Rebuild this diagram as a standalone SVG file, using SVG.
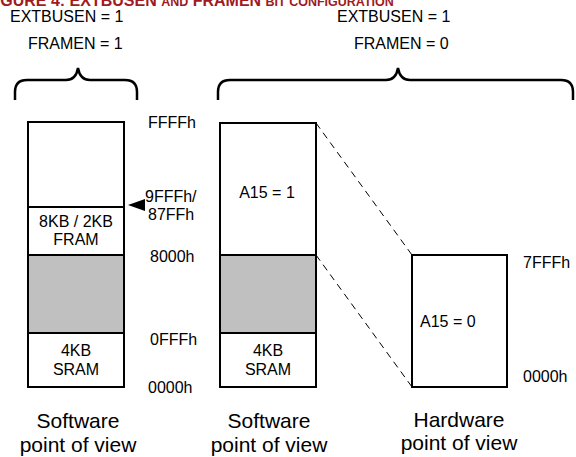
<svg xmlns="http://www.w3.org/2000/svg" width="576" height="457" viewBox="0 0 576 457">
<style>
text{font-family:"Liberation Sans",Arial,sans-serif;fill:#000}
.t{font-size:16px}
.c{text-anchor:middle}
.b{font-size:21px;text-anchor:middle}
.box{fill:#fff;stroke:#000;stroke-width:2}
.gray{fill:#c0c0c0;stroke:#000;stroke-width:2}
.brace{fill:none;stroke:#000;stroke-width:2.5}
.dash{stroke:#000;stroke-width:1;stroke-dasharray:7,5;fill:none}
.title{font-weight:bold;fill:#a01a22}
</style>
<rect width="576" height="457" fill="#fff"/>
<text class="title" x="-14" y="6" font-size="16">FIGURE 4: EXTBUSEN <tspan font-size="12.5">AND</tspan> FRAMEN <tspan font-size="12.5">BIT CONFIGURATION</tspan></text>

<g id="config-left">
<text class="t" x="10" y="22">EXTBUSEN = 1</text>
<text class="t" x="28" y="49">FRAMEN = 1</text>
<path class="brace" d="M15,100 V92 Q15,80 27,80 H66 Q76,80 78,68 Q80,80 90,80 H125 Q137,80 137,92 V100"/>
</g>
<g id="config-right">
<text class="t" x="337" y="22">EXTBUSEN = 1</text>
<text class="t" x="354" y="49">FRAMEN = 0</text>
<path class="brace" d="M218,100 V92 Q218,80 230,80 H386 Q396,80 398,68 Q400,80 410,80 H561 Q573,80 573,92 V100"/>
</g>

<g id="connectors">
<line class="dash" x1="316" y1="123" x2="412" y2="255"/>
<line class="dash" x1="316" y1="255" x2="412" y2="387"/>
<polygon points="128,205 145,199 145,211" fill="#000"/>
</g>

<g id="sw-view-1">
<rect class="box" x="28" y="122" width="96" height="85"/>
<rect class="box" x="28" y="207" width="96" height="48"/>
<rect class="gray" x="28" y="255" width="96" height="78"/>
<rect class="box" x="28" y="333" width="96" height="54"/>
<text class="t c" x="76" y="227">8KB / 2KB</text>
<text class="t c" x="76" y="245">FRAM</text>
<text class="t c" x="76" y="356">4KB</text>
<text class="t c" x="76" y="375">SRAM</text>
<text class="b" x="78" y="428">Software</text>
<text class="b" x="78" y="452">point of view</text>
</g>

<g id="addr-labels">
<text class="t" x="148" y="128">FFFFh</text>
<text class="t" x="145" y="202">9FFFh/</text>
<text class="t" x="148" y="220">87FFh</text>
<text class="t" x="150" y="262">8000h</text>
<text class="t" x="150" y="345">0FFFh</text>
<text class="t" x="148" y="393">0000h</text>
</g>

<g id="sw-view-2">
<rect class="box" x="220" y="123" width="96" height="132"/>
<rect class="gray" x="220" y="255" width="96" height="78"/>
<rect class="box" x="220" y="333" width="96" height="54"/>
<text class="t c" x="267" y="198">A15 = 1</text>
<text class="t c" x="268" y="356">4KB</text>
<text class="t c" x="268" y="375">SRAM</text>
<text class="b" x="269" y="428">Software</text>
<text class="b" x="269" y="452">point of view</text>
</g>

<g id="hw-view">
<rect class="box" x="412" y="255" width="95" height="132"/>
<text class="t" x="420" y="327">A15 = 0</text>
<text class="t" x="523" y="268">7FFFh</text>
<text class="t" x="523" y="382">0000h</text>
<text class="b" x="459" y="427">Hardware</text>
<text class="b" x="459" y="450">point of view</text>
</g>
</svg>
